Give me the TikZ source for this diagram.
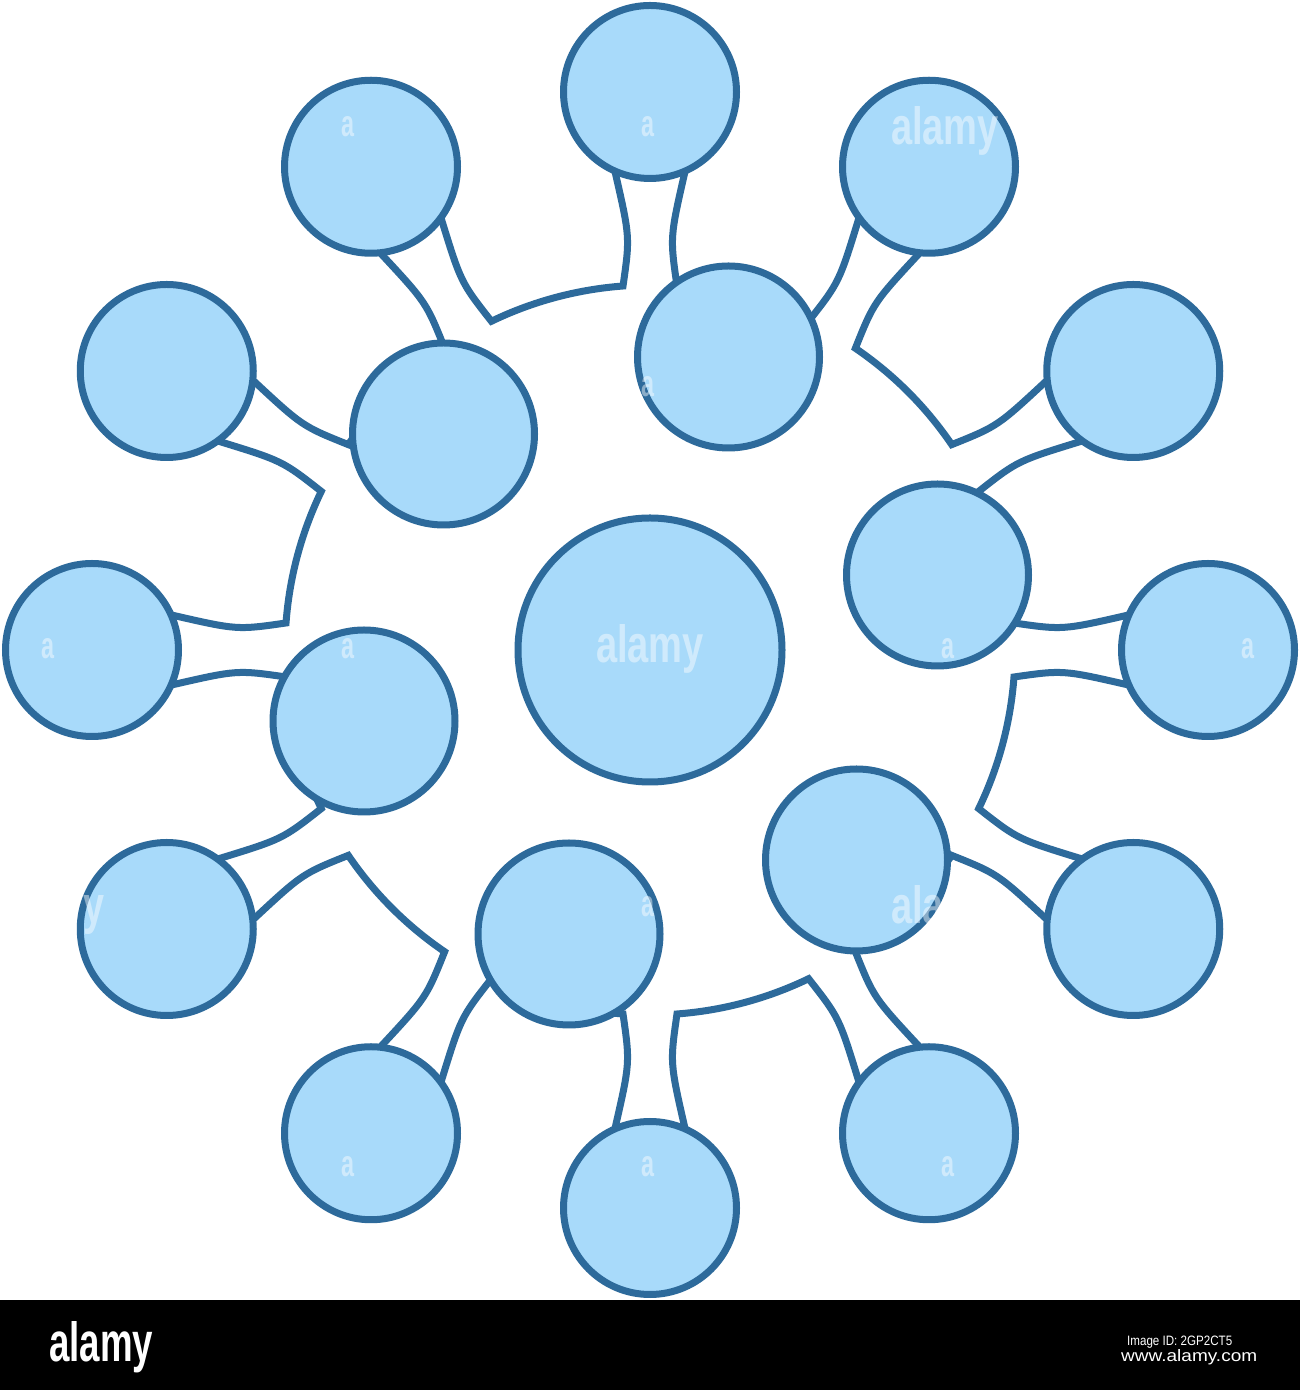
\documentclass[tikz,border=0pt]{standalone}
\usepackage{fontspec}
\setmainfont{Liberation Sans}
\usepackage{graphicx}
\definecolor{cfill}{RGB}{168,218,250}
\definecolor{cline}{RGB}{45,106,155}
\begin{document}
\begin{tikzpicture}[x=1pt,y=1pt,
  blob/.style={circle, draw=cline, fill=cfill, line width=7pt, inner sep=0pt, outer sep=0pt},
  outercell/.style={blob, minimum size=173pt},
  midcell/.style={blob, minimum size=182pt},
  corecell/.style={blob, minimum size=264pt},
  membrane/.style={draw=cline, fill=white, line width=7pt, line join=miter, miter limit=2},
  wm/.style={text=white, opacity=0.45, inner sep=0pt, anchor=base, font=\bfseries},
  bartext/.style={text=white, inner sep=0pt, anchor=base west}]
\useasboundingbox (0,0) rectangle (1300,1390);
\fill[white] (0,0) rectangle (1300,1390);
\fill[black] (0,0) rectangle (1300,90);
\coordinate (c) at (650,740);
\begin{scope}[shift={(c)}]
  \path[membrane] ({-4.242}:365)
    \foreach \a in {0,30,...,330}{
      .. controls ({\a-2.772}:413.48) .. ({\a-4.184}:479.68)
      -- (\a:558) -- ({\a+4.184}:479.68)
      .. controls ({\a+2.772}:413.48) .. ({\a+4.242}:365)
      arc[start angle={\a+4.242}, end angle={\a+25.758}, radius=365]
    } -- cycle;
  \foreach \a [count=\i from 0] in {0,30,...,330}
    \node[outercell] (o\i) at (\a:558) {};
\end{scope}
\node[midcell] (m1) at (443.5,956) {};
\node[midcell] (m2) at (728.5,1033) {};
\node[midcell] (m3) at (937.5,815) {};
\node[midcell] (m4) at (856.5,530) {};
\node[midcell] (m5) at (569,456) {};
\node[midcell] (m6) at (364,669) {};
\node[corecell] (core) at (c) {};
% watermark
\foreach \x/\y [count=\k] in {348/137,648/137,648/397,48/659,348/659,948/659,1248/659,648/917,348/1177,648/1177,948/1177}
  \node[wm] (wa\k) at (\x,1390-\y) {\resizebox{13pt}{20pt}{a}};
\foreach \x/\y [count=\k] in {945/145,650/663,945/924}
  \node[wm] (wb\k) at (\x,1390-\y) {\resizebox{108pt}{38pt}{alamy}};
\node[wm, anchor=base west] (wy) at (83,1390-924) {\resizebox{21pt}{28pt}{y}};
% bottom bar
\node[bartext, font=\bfseries] (logo) at (49,28) {\resizebox{104pt}{40pt}{alamy}};
\node[bartext] (imgid) at (1127,44) {\resizebox{105pt}{9.5pt}{Image ID: 2GP2CT5}};
\node[bartext] (url) at (1121,28) {\resizebox{136pt}{12pt}{www.alamy.com}};
\end{tikzpicture}
\end{document}
